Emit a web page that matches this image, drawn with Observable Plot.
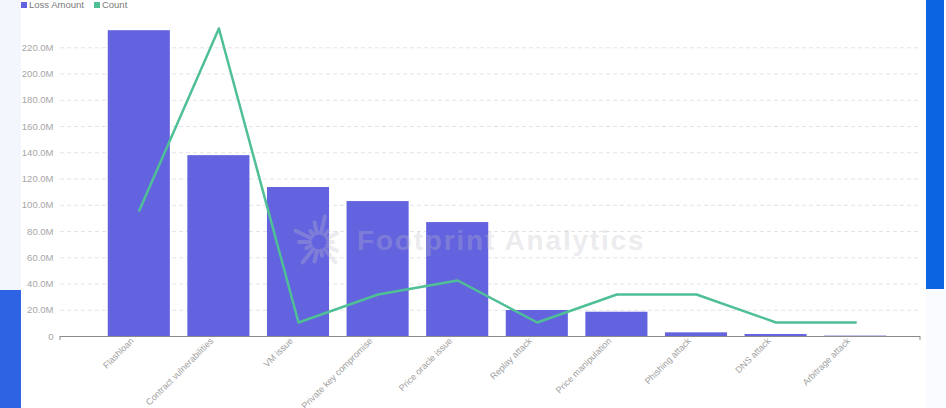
<!DOCTYPE html>
<html>
<head>
<meta charset="utf-8">
<script src="https://cdn.jsdelivr.net/npm/d3@7"></script>
<script src="https://cdn.jsdelivr.net/npm/@observablehq/plot@0.6"></script>
<style>
  html, body { margin: 0; padding: 0; background: #ffffff; }
  #wrap { position: relative; width: 946px; height: 408px; overflow: hidden; background: #ffffff; font-family: "Liberation Sans", Arial, sans-serif; }
  .deco { position: absolute; }
  #chart { position: absolute; left: 0; top: 0; }
  #legend { position: absolute; left: 21px; top: -1px; font-size: 9.5px; color: #7a7a7a; display: flex; align-items: center; gap: 4px; line-height: 11px; }
  #legend .sw { display: inline-block; width: 6px; height: 6px; margin-right: 2px; }
  #legend .item { display: flex; align-items: center; margin-right: 6px; }
  #wm { position: absolute; left: 357px; top: 227px; font-size: 28px; line-height: 28px; letter-spacing: 1.8px; font-weight: bold; color: rgba(190,190,200,0.30); white-space: nowrap; pointer-events: none; }
  #wmlogo { position: absolute; left: 289px; top: 214px; pointer-events: none; }
</style>
</head>
<body>
<div id="wrap">
  <div class="deco" style="left:0;top:0;width:21px;height:290px;background:#f3f6fd;"></div>
  <div class="deco" style="left:0;top:290px;width:21px;height:118px;background:#2e63e3;"></div>
  <div class="deco" style="left:926px;top:0;width:18px;height:289px;background:#0b64e2;"></div>
  <div class="deco" style="left:926px;top:289px;width:20px;height:119px;background:#fafbfe;"></div>
  <div id="chart"></div>
  <div id="legend">
    <span class="item"><span class="sw" style="background:#6363df"></span>Loss Amount</span>
    <span class="item"><span class="sw" style="background:#4fbf95"></span>Count</span>
  </div>
  <svg id="wmlogo" width="60" height="56" viewBox="-30 -28 60 56"></svg>
  <div id="wm">Footprint Analytics</div>
</div>
<script>
// ---- data ----
const categories = ["Flashloan", "Contract vulnerabilities", "VM issue", "Private key compromise", "Price oracle issue", "Replay attack", "Price manipulation", "Phishing attack", "DNS attack", "Arbitrage attack"];
const lossAmountM = [233, 137.8, 113.5, 102.8, 86.8, 19.8, 18.5, 2.8, 1.5, 0.3];
const counts = [9, 22, 1, 3, 4, 1, 3, 3, 1, 1];
const yTickValuesM = [0, 20, 40, 60, 80, 100, 120, 140, 160, 180, 200, 220];
const yMaxM = 240;
const countMax = 22.5;

const data = categories.map((c, i) => ({category: c, loss: lossAmountM[i] * 1e6, count: counts[i]}));
const yTicks = yTickValuesM.map(v => v * 1e6);
const fmt = d => d === 0 ? "0" : (d / 1e6).toFixed(1) + "M";

const plot = Plot.plot({
  width: 946,
  height: 408,
  marginLeft: 60,
  marginRight: 26,
  marginTop: 21,
  marginBottom: 72,
  style: {background: "transparent", fontFamily: "'Liberation Sans', Arial, sans-serif", overflow: "visible"},
  x: {domain: categories, range: [99, 895], paddingInner: 0.22, paddingOuter: 0.11, round: false, label: null},
  y: {domain: [0, yMaxM * 1e6], label: null},
  marks: [
    Plot.gridY(yTicks.slice(1), {stroke: "#e4e4e8", strokeOpacity: 1, strokeDasharray: "4,3"}),
    Plot.axisY(yTicks, {tickSize: 0, tickPadding: 7, tickFormat: fmt, fill: "#a6a6a6", fontSize: 9.5, label: null}),
    Plot.barY(data, {x: "category", y: "loss", fill: "#6363df"}),
    Plot.line(data, {x: "category", y: d => d.count / countMax * yMaxM * 1e6, stroke: "#4fbf95", strokeWidth: 2.5, strokeLinejoin: "round"}),
    Plot.ruleY([0], {stroke: "#8a8a8a", strokeWidth: 1}),
    Plot.axisX({tickSize: 0, tickPadding: 3, tickRotate: -45, fill: "#a0a0a0", fontSize: 9, dx: -7, label: null})
  ]
});
document.getElementById("chart").appendChild(plot);

// small end ticks on the baseline
const svg = d3.select(plot);
const y0 = plot.scale("y").apply(0);
[60, 920].forEach(xx => {
  svg.append("line").attr("x1", xx).attr("x2", xx).attr("y1", y0).attr("y2", y0 + 4)
    .attr("stroke", "#8a8a8a").attr("stroke-width", 1);
});

// watermark logo (decorative)
const logo = d3.select("#wmlogo");
for (let i = 0; i < 14; i++) {
  const a = i / 14 * Math.PI * 2;
  const r1 = 9, r2 = 14 + (i % 3) * 6;
  logo.append("line")
    .attr("x1", Math.cos(a) * r1).attr("y1", Math.sin(a) * r1)
    .attr("x2", Math.cos(a) * r2).attr("y2", Math.sin(a) * r2)
    .attr("stroke", "rgba(190,190,205,0.30)").attr("stroke-width", 4).attr("stroke-linecap", "round");
}
</script>
</body>
</html>
